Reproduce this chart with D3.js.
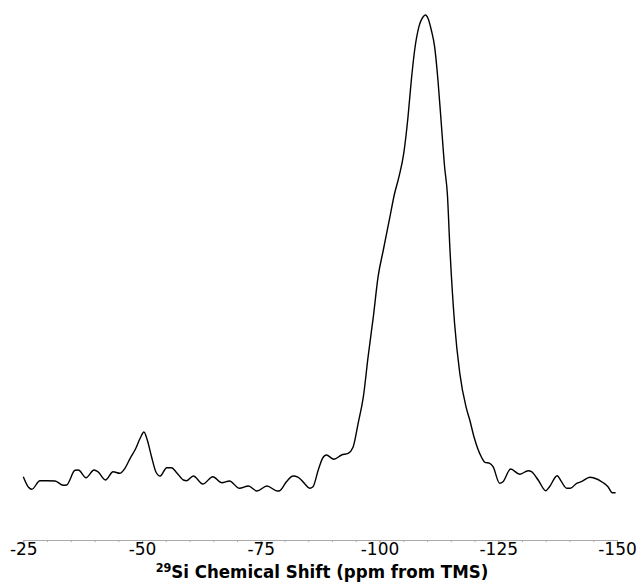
<!DOCTYPE html>
<html>
<head>
<meta charset="utf-8">
<script src="https://cdn.jsdelivr.net/npm/d3@7"></script>
<style>
  body { margin: 0; background: #fff; }
  svg { display: block; }
  .axis .domain { stroke: #aaa; }
  .axis .tick line { stroke: #aaa; }
  .axis text { font-family: "DejaVu Sans", sans-serif; font-size: 17px; fill: #000; }
</style>
</head>
<body>
<div id="chart"></div>
<script>
// 29Si spectrum (ppm, arbitrary intensity)
const shift = [
  -25.0, -26.1, -26.8, -28.5, -29.9, -31.7, -33.4, -34.1, -35.9, -36.6,
  -38.2, -39.9, -40.7, -42.3, -43.9, -45.3, -46.4, -47.5, -48.7, -49.6,
  -50.4, -51.1, -52.0, -52.9, -53.8, -55.2, -56.2, -57.3, -58.7, -59.4,
  -60.8, -62.8, -64.9, -66.8, -68.4, -70.5, -72.4, -74.2, -76.3, -78.5,
  -79.0, -80.4, -81.8, -82.9, -84.3, -85.3, -86.0, -87.1, -88.0, -88.8,
  -90.4, -92.0, -93.4, -94.4, -95.5, -96.6, -97.6, -98.7, -99.7, -100.8,
  -102.2, -103.1, -104.1, -105.1, -106.0, -106.7, -107.4, -108.3, -109.2, -109.7,
  -110.2, -110.9, -111.6, -112.3, -113.0, -113.7, -114.3, -114.8, -115.8, -116.9,
  -118.2, -119.0, -119.9, -121.5, -122.2, -123.2, -123.9, -125.3, -126.0, -127.6,
  -129.5, -131.3, -132.0, -133.4, -135.0, -135.8, -137.4, -138.3, -139.4, -140.2,
  -141.5, -142.5, -144.3, -145.0, -147.1, -148.1, -149.0, -149.7
];
const intensity = [
  23.3, 12.7, 10.7, 19.3, 19.3, 19.0, 14.7, 15.0, 29.7, 30.0,
  22.3, 30.0, 28.3, 20.0, 28.3, 26.7, 31.7, 41.7, 51.7, 61.7,
  68.0, 60.0, 43.3, 28.3, 24.0, 32.3, 32.3, 27.3, 20.0, 19.3,
  24.0, 16.0, 23.3, 17.3, 19.0, 11.7, 14.0, 9.0, 14.0, 9.0,
  9.3, 18.3, 24.0, 22.7, 16.0, 11.7, 13.3, 30.0, 41.7, 45.0,
  40.7, 45.0, 46.7, 52.5, 76.7, 103.3, 143.3, 183.3, 223.3, 250.0,
  283.3, 305.0, 323.3, 346.7, 383.3, 420.0, 450.0, 473.3, 483.3, 485.0,
  481.7, 470.0, 453.3, 420.0, 376.7, 333.3, 305.0, 253.3, 176.7, 126.7,
  93.3, 80.0, 63.0, 42.5, 37.7, 36.7, 33.3, 16.7, 18.3, 31.0,
  25.7, 29.3, 28.3, 20.0, 9.3, 13.3, 24.3, 18.3, 11.7, 11.7,
  16.7, 18.3, 22.7, 22.3, 17.3, 13.3, 7.3, 7.3
];
const majorTicks = [-25, -50, -75, -100, -125, -150];
const minorTicks = d3.range(-25, -151, -5);

const width = 637, height = 582;
const axisY = 540;

const svg = d3.select("#chart").append("svg")
  .attr("width", width)
  .attr("height", height);

const x = d3.scaleLinear().domain([-25, -150]).range([23.3, 617]);
const y = d3.scaleLinear().domain([0, 485]).range([500, 15]);

// minor ticks
svg.append("g")
  .attr("class", "axis")
  .attr("transform", "translate(0," + axisY + ")")
  .call(d3.axisBottom(x).tickValues(minorTicks).tickFormat("").tickSizeInner(2).tickSizeOuter(0));

// major ticks + labels
svg.append("g")
  .attr("class", "axis")
  .attr("transform", "translate(0," + axisY + ")")
  .call(d3.axisBottom(x).tickValues(majorTicks).tickFormat(d3.format("d")).tickSizeInner(3).tickSizeOuter(0).tickPadding(0))
  .selectAll("text").text(d => "-" + Math.abs(d));

// spectrum
const pts = shift.map((s, i) => [s, intensity[i]]);
const line = d3.line()
  .x(d => x(d[0]))
  .y(d => y(d[1]))
  .curve(d3.curveMonotoneX);

svg.append("path")
  .datum(pts)
  .attr("fill", "none")
  .attr("stroke", "#000")
  .attr("stroke-width", 1.4)
  .attr("stroke-linejoin", "round")
  .attr("d", line);

// axis title
const title = svg.append("text")
  .attr("x", 322)
  .attr("y", 578)
  .attr("text-anchor", "middle")
  .style("font-family", "'DejaVu Sans Condensed', 'DejaVu Sans', sans-serif")
  .style("font-weight", "bold")
  .style("font-size", "18.5px");
title.append("tspan").style("font-size", "12.5px").attr("dy", -6).text("29");
title.append("tspan").attr("dy", 6).text("Si Chemical Shift (ppm from TMS)");
</script>
</body>
</html>
